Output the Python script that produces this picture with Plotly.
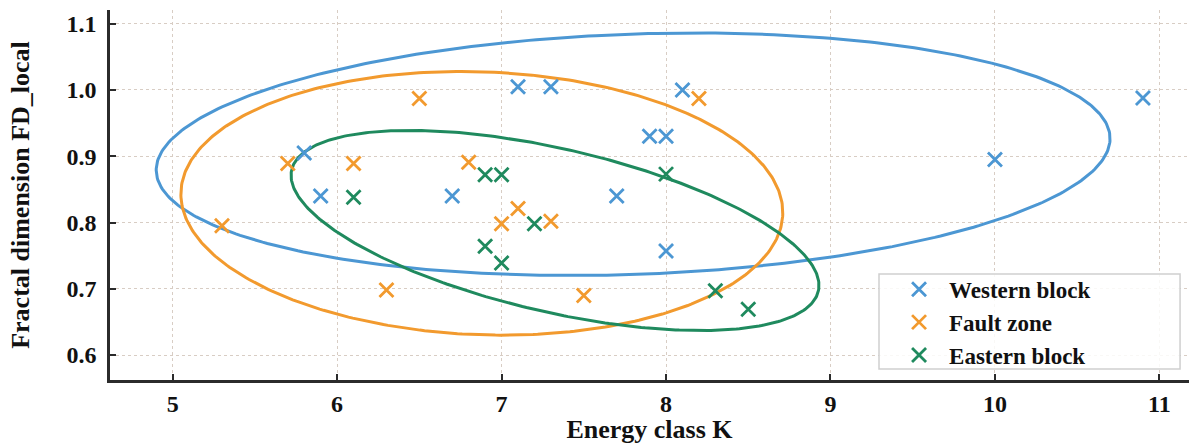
import numpy as np
import plotly.graph_objects as go

# ---- data ----
western_k = [5.8, 5.9, 6.7, 7.1, 7.3, 7.7, 7.9, 8.0, 8.1, 8.0, 10.0, 10.9]
western_fd = [0.905, 0.84, 0.84, 1.005, 1.005, 0.84, 0.93, 0.93, 1.0, 0.757, 0.895, 0.988]

fault_k = [5.3, 5.7, 6.1, 6.3, 6.5, 6.8, 7.0, 7.1, 7.3, 7.5, 8.2]
fault_fd = [0.795, 0.889, 0.889, 0.698, 0.987, 0.891, 0.798, 0.821, 0.802, 0.69, 0.987]

eastern_k = [6.1, 6.9, 7.0, 7.2, 6.9, 7.0, 8.0, 8.3, 8.5]
eastern_fd = [0.838, 0.872, 0.872, 0.798, 0.764, 0.739, 0.873, 0.697, 0.669]

series_names = ["Western block", "Fault zone", "Eastern block"]
series_colors = ["#4C97D3", "#F29A2E", "#1F8A5E"]

# ellipse parameters: centre x, centre y, half x-extent, half y-extent, correlation
ell_cx = [7.80, 6.88, 7.325]
ell_cy = [0.903, 0.829, 0.788]
ell_hx = [2.90, 1.83, 1.605]
ell_hy = [0.183, 0.199, 0.151]
ell_r = [0.13, -0.07, -0.55]

x_ticks = [5, 6, 7, 8, 9, 10, 11]
y_ticks = [0.6, 0.7, 0.8, 0.9, 1.0, 1.1]

FONT = "Liberation Serif"

fig = go.Figure()

t = np.linspace(0, 2 * np.pi, 400)
for i in range(3):
    a = np.sqrt(1 + ell_r[i])
    b = np.sqrt(1 - ell_r[i])
    xp = (a * np.cos(t) - b * np.sin(t)) / np.sqrt(2)
    yp = (a * np.cos(t) + b * np.sin(t)) / np.sqrt(2)
    fig.add_trace(go.Scatter(
        x=ell_cx[i] + ell_hx[i] * xp,
        y=ell_cy[i] + ell_hy[i] * yp,
        mode="lines",
        line=dict(color=series_colors[i], width=3),
        showlegend=False,
        hoverinfo="skip",
    ))

for name, xs, ys, col in zip(series_names,
                             [western_k, fault_k, eastern_k],
                             [western_fd, fault_fd, eastern_fd],
                             series_colors):
    fig.add_trace(go.Scatter(
        x=xs, y=ys, mode="markers", name=name,
        marker=dict(symbol="x-thin", size=14, color=col,
                    line=dict(color=col, width=2.8)),
    ))

axis_common = dict(
    showline=True, linecolor="#2b2b2b", linewidth=2.5, mirror=False,
    showgrid=True, gridcolor="#d8cdc4", gridwidth=1.2, griddash="dot",
    ticks="inside", ticklen=6, tickwidth=1.5, tickcolor="#2b2b2b",
    zeroline=False, automargin=False,
    tickfont=dict(family=FONT, size=24, color="#111", weight="bold"),
)

fig.update_xaxes(
    range=[4.619, 11.18], tickvals=x_ticks, ticktext=[str(v) for v in x_ticks],
    title=dict(text="Energy class K", standoff=19,
               font=dict(family=FONT, size=26, color="#111", weight="bold")),
    **axis_common,
)
fig.update_yaxes(
    range=[0.5623, 1.1207], tickvals=y_ticks, ticktext=[f"{v:.1f}" for v in y_ticks],
    ticklabelstandoff=6,
    title=dict(text="Fractal dimension FD_local", standoff=30,
               font=dict(family=FONT, size=26, color="#111", weight="bold")),
    **axis_common,
)

# legend frame (drawn as a shape so its size can match the reference)
fig.add_shape(
    type="rect", xref="paper", yref="paper",
    x0=0.7127, x1=0.9917, y0=0.0297, y1=0.2865,
    line=dict(color="#cfcfcf", width=1.5),
    fillcolor="rgba(255,255,255,0.85)", layer="above",
)

fig.update_layout(
    width=1189, height=444,
    margin=dict(l=110, r=0, t=10, b=64),
    paper_bgcolor="white", plot_bgcolor="white",
    legend=dict(
        x=0.722, y=0.156, xanchor="left", yanchor="middle",
        bgcolor="rgba(0,0,0,0)", borderwidth=0,
        font=dict(family=FONT, size=23, color="#111", weight="bold"),
        itemwidth=50, tracegroupgap=0,
    ),
)

fig.write_html("out.html")
